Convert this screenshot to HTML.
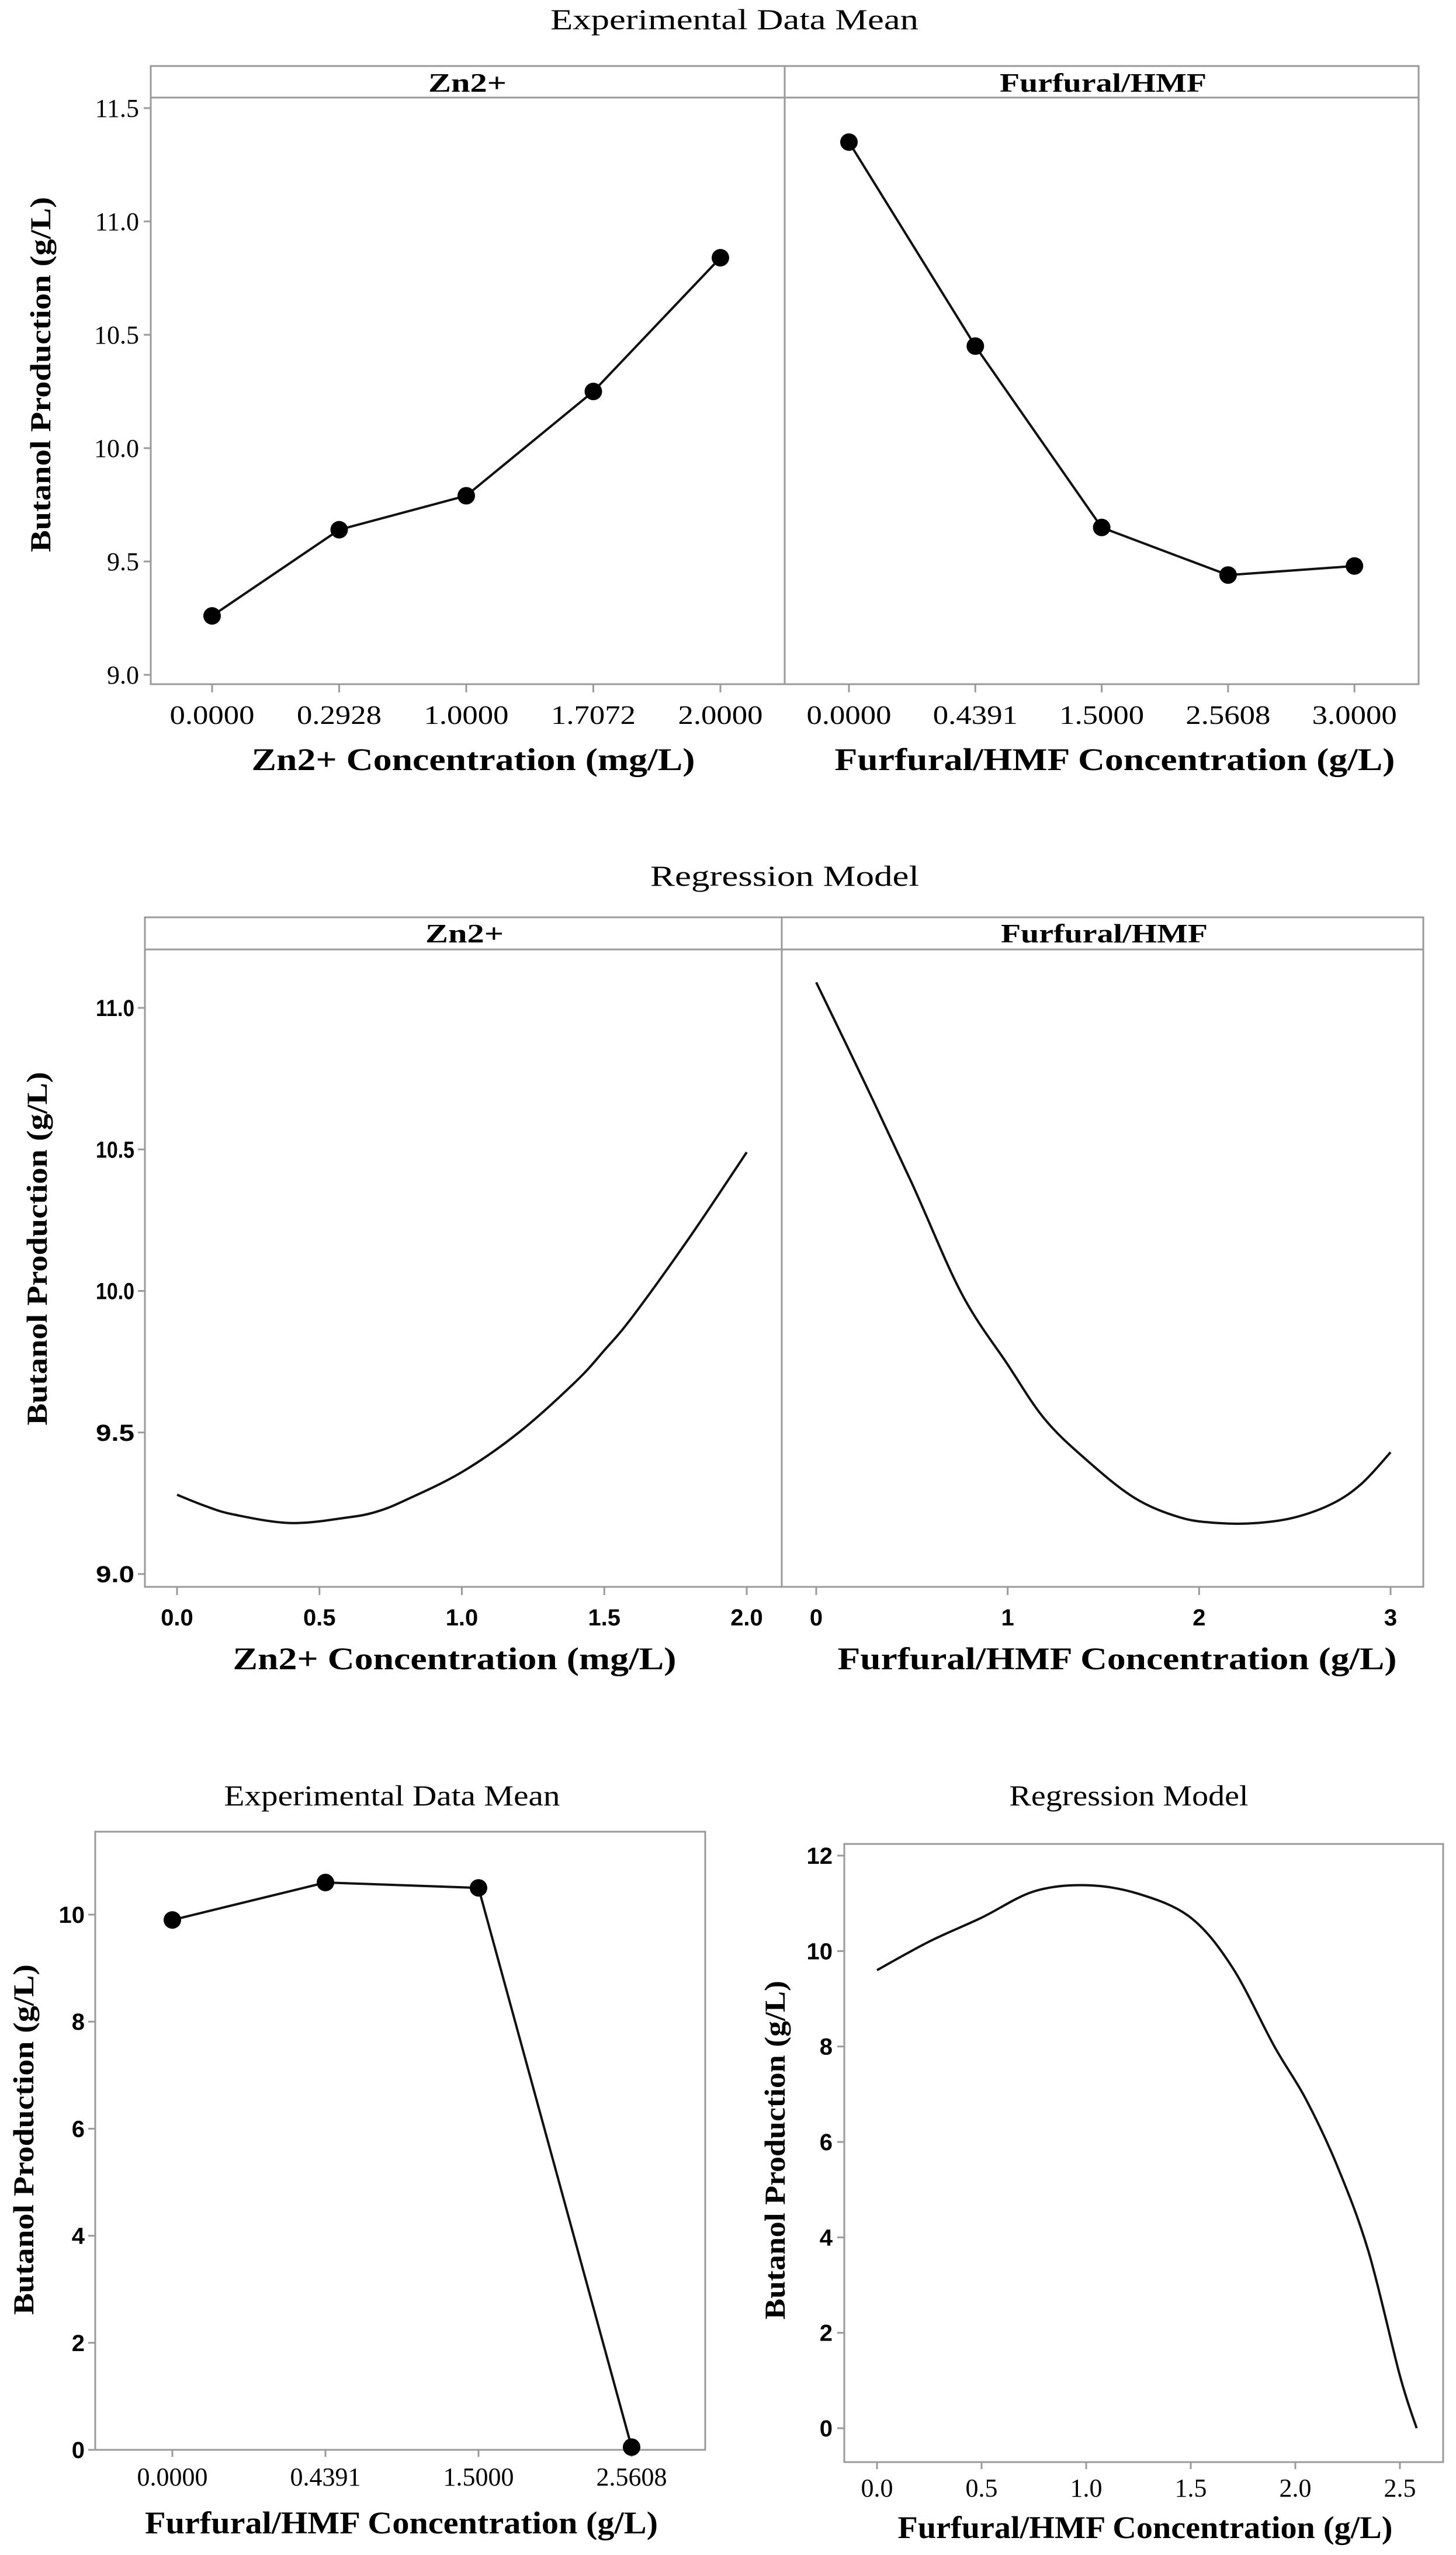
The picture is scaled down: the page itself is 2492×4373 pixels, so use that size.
<!DOCTYPE html>
<html><head><meta charset="utf-8"><style>
html,body{margin:0;padding:0;background:#fff;}
svg{display:block;}
.serif{font-family:"Liberation Serif",serif;}
.sans{font-family:"Liberation Sans",sans-serif;}
</style></head>
<body>
<svg id="fig" width="2492" height="4373" viewBox="0 0 2492 4373" xmlns="http://www.w3.org/2000/svg"></svg>
<script>
// ---------- data ----------
const znCats = ["0.0000","0.2928","1.0000","1.7072","2.0000"];
const znMeans = [9.26, 9.64, 9.79, 10.25, 10.84];
const ffCats = ["0.0000","0.4391","1.5000","2.5608","3.0000"];
const ffMeans = [11.35, 10.45, 9.65, 9.44, 9.48];
const expTicks = [9.0, 9.5, 10.0, 10.5, 11.0, 11.5];

const znRegX = [0, 0.1, 0.2, 0.4, 0.6, 0.7, 0.8, 1.0, 1.2, 1.4, 1.5, 1.6, 1.8, 2.0];
const znRegY = [9.28, 9.24, 9.21, 9.18, 9.20, 9.22, 9.26, 9.36, 9.50, 9.68, 9.79, 9.91, 10.19, 10.49];
const ffRegX = [0, 0.25, 0.5, 0.76, 1.0, 1.19, 1.4, 1.66, 1.9, 2.1, 2.3, 2.5, 2.7, 2.85, 3.0];
const ffRegY = [11.09, 10.74, 10.38, 9.99, 9.74, 9.55, 9.41, 9.27, 9.20, 9.18, 9.18, 9.20, 9.25, 9.32, 9.43];
const regTicks = [9.0, 9.5, 10.0, 10.5, 11.0];
const znRegXTicks = [0.0, 0.5, 1.0, 1.5, 2.0];
const ffRegXTicks = [0, 1, 2, 3];

const blCats = ["0.0000","0.4391","1.5000","2.5608"];
const blMeans = [9.9, 10.6, 10.5, 0.05];
const blTicks = [0, 2, 4, 6, 8, 10];

const brX = [0, 0.25, 0.5, 0.75, 1.0, 1.25, 1.5, 1.7, 1.9, 2.05, 2.2, 2.35, 2.5, 2.58];
const brY = [9.6, 10.2, 10.7, 11.25, 11.38, 11.2, 10.7, 9.65, 8.0, 6.9, 5.5, 3.7, 1.1, 0.0];
const brYTicks = [0, 2, 4, 6, 8, 10, 12];
const brXTicks = [0.0, 0.5, 1.0, 1.5, 2.0, 2.5];

// ---------- helpers ----------
const NS = "http://www.w3.org/2000/svg";
const svg = document.getElementById("fig");
function mk(tag, attrs, parent) {
  const e = document.createElementNS(NS, tag);
  for (const k in attrs) e.setAttribute(k, attrs[k]);
  (parent || svg).appendChild(e);
  return e;
}
function txt(s, x, y, cls, size, weight, anchor, extra) {
  const t = mk("text", Object.assign({x: x, y: y, "class": cls, "font-size": size, "font-weight": weight || "normal", "text-anchor": anchor || "middle", fill: "#000"}, extra || {}));
  t.textContent = s;
  return t;
}
function lin(d0, d1, p0, p1) { return v => p0 + (v - d0) * (p1 - p0) / (d1 - d0); }
function smooth(pts) {
  let d = "M" + pts[0][0] + "," + pts[0][1];
  for (let i = 0; i < pts.length - 1; i++) {
    const p0 = pts[Math.max(0, i - 1)], p1 = pts[i], p2 = pts[i + 1], p3 = pts[Math.min(pts.length - 1, i + 2)];
    const c1x = p1[0] + (p2[0] - p0[0]) / 6, c1y = p1[1] + (p2[1] - p0[1]) / 6;
    const c2x = p2[0] - (p3[0] - p1[0]) / 6, c2y = p2[1] - (p3[1] - p1[1]) / 6;
    d += " C" + c1x + "," + c1y + " " + c2x + "," + c2y + " " + p2[0] + "," + p2[1];
  }
  return d;
}
const GRAY = "#9a9a9a";

// ================= PANEL 1: Experimental Data Mean =================
let t = txt("Experimental Data Mean", 1257, 50, "serif", 50, "normal", "middle", {textLength: 630, lengthAdjust: "spacingAndGlyphs"});


{
  const L = 258, D = 1343, R = 2428, T = 113, S = 167, B = 1171;
  const y = lin(9, 11.5, 1155, 185);
  let f = mk("rect", {x: L, y: T, width: R - L, height: B - T, fill: "none", stroke: GRAY, "stroke-width": 3});
  
  
  let s = mk("line", {x1: L, y1: S, x2: R, y2: S, stroke: GRAY, "stroke-width": 3});
  
  
  let dv = mk("line", {x1: D, y1: T, x2: D, y2: B, stroke: GRAY, "stroke-width": 3});
  
  
  let sl = txt("Zn2+", 800, 157, "serif", 46, "bold", "middle", {textLength: 134, lengthAdjust: "spacingAndGlyphs"});
  
  
  sl = txt("Furfural/HMF", 1888, 157, "serif", 46, "bold", "middle", {textLength: 354, lengthAdjust: "spacingAndGlyphs"});
  
  
  expTicks.forEach(v => {
    const tk = mk("line", {x1: L - 12, y1: y(v), x2: L, y2: y(v), stroke: GRAY, "stroke-width": 3});
    
    
    const lb = txt(v.toFixed(1), L - 20, y(v) + 15, "serif", 44, "normal", "end");
    
    
  });
  const yt = txt("Butanol Production (g/L)", 0, 0, "serif", 50, "bold", "middle", {transform: "translate(86,641) rotate(-90)", textLength: 608, lengthAdjust: "spacingAndGlyphs"});
  
  
  const facets = [
    {cats: znCats, vals: znMeans, x0: 363, dx: 217.5, name: "zn", title: "Zn2+ Concentration (mg/L)", tc: 810, tw: 759},
    {cats: ffCats, vals: ffMeans, x0: 1453, dx: 216.3, name: "furfural", title: "Furfural/HMF Concentration (g/L)", tc: 1908, tw: 959}
  ];
  facets.forEach(fc => {
    const xs = fc.cats.map((c, i) => fc.x0 + i * fc.dx);
    fc.cats.forEach((c, i) => {
      const tk = mk("line", {x1: xs[i], y1: B, x2: xs[i], y2: B + 14, stroke: GRAY, "stroke-width": 3});
      
      
      const lb = txt(c, xs[i], 1239, "serif", 46, "normal", "middle", {textLength: 145, lengthAdjust: "spacingAndGlyphs"});
      
      
    });
    const pl = mk("polyline", {points: fc.vals.map((v, i) => xs[i] + "," + y(v)).join(" "), fill: "none", stroke: "#111", "stroke-width": 4});
    
    
    fc.vals.forEach((v, i) => {
      const c = mk("circle", {cx: xs[i], cy: y(v), r: 15, fill: "#000"});
      
      
    });
    const at = txt(fc.title, fc.tc, 1318, "serif", 54, "bold", "middle", {textLength: fc.tw, lengthAdjust: "spacingAndGlyphs"});
    
    
  });
}

// ================= PANEL 2: Regression Model =================
t = txt("Regression Model", 1343, 1516, "serif", 50, "normal", "middle", {textLength: 460, lengthAdjust: "spacingAndGlyphs"});


{
  const L = 248, D = 1338, R = 2436, T = 1570, S = 1625, B = 2716;
  const y = lin(9, 11, 2694, 1725);
  let f = mk("rect", {x: L, y: T, width: R - L, height: B - T, fill: "none", stroke: GRAY, "stroke-width": 3});
  
  
  let s = mk("line", {x1: L, y1: S, x2: R, y2: S, stroke: GRAY, "stroke-width": 3});
  
  
  let dv = mk("line", {x1: D, y1: T, x2: D, y2: B, stroke: GRAY, "stroke-width": 3});
  
  
  let sl = txt("Zn2+", 795, 1613, "serif", 46, "bold", "middle", {textLength: 134, lengthAdjust: "spacingAndGlyphs"});
  
  
  sl = txt("Furfural/HMF", 1890, 1613, "serif", 46, "bold", "middle", {textLength: 354, lengthAdjust: "spacingAndGlyphs"});
  
  
  regTicks.forEach(v => {
    const tk = mk("line", {x1: L - 12, y1: y(v), x2: L, y2: y(v), stroke: GRAY, "stroke-width": 3});
    
    
    const lb = txt(v.toFixed(1), L - 18, y(v) + 14, "sans", 40, "bold", "end", {textLength: 66, lengthAdjust: "spacingAndGlyphs"});
    
    
  });
  const yt = txt("Butanol Production (g/L)", 0, 0, "serif", 50, "bold", "middle", {transform: "translate(80,2137) rotate(-90)", textLength: 605, lengthAdjust: "spacingAndGlyphs"});
  
  
  const facets = [
    {xs: znRegX, ys: znRegY, ticks: znRegXTicks, x: lin(0, 2, 303, 1278), dec: 1, name: "zn", title: "Zn2+ Concentration (mg/L)", tc: 778, tw: 759},
    {xs: ffRegX, ys: ffRegY, ticks: ffRegXTicks, x: lin(0, 3, 1397, 2380), dec: 0, name: "furfural", title: "Furfural/HMF Concentration (g/L)", tc: 1912, tw: 957}
  ];
  facets.forEach(fc => {
    fc.ticks.forEach(v => {
      const tk = mk("line", {x1: fc.x(v), y1: B, x2: fc.x(v), y2: B + 14, stroke: GRAY, "stroke-width": 3});
      
      
      const lb = txt(v.toFixed(fc.dec), fc.x(v), 2782, "sans", 40, "bold", "middle");
      
      
    });
    const pl = mk("path", {d: smooth(fc.xs.map((v, i) => [fc.x(v), y(fc.ys[i])])), fill: "none", stroke: "#111", "stroke-width": 4, "stroke-linejoin": "round"});
    
    
    const at = txt(fc.title, fc.tc, 2857, "serif", 54, "bold", "middle", {textLength: fc.tw, lengthAdjust: "spacingAndGlyphs"});
    
    
  });
}

// ================= PANEL 3: bottom-left Experimental =================
t = txt("Experimental Data Mean", 671, 3090, "serif", 50, "normal", "middle", {textLength: 575, lengthAdjust: "spacingAndGlyphs"});


{
  const L = 163, R = 1207, T = 3135, B = 4193;
  const y = lin(0, 10, 4193, 3277);
  const xs = blCats.map((c, i) => 295 + i * 262);
  let f = mk("rect", {x: L, y: T, width: R - L, height: B - T, fill: "none", stroke: GRAY, "stroke-width": 3});
  
  
  blTicks.forEach(v => {
    const tk = mk("line", {x1: L - 12, y1: y(v), x2: L, y2: y(v), stroke: GRAY, "stroke-width": 3});
    
    
    const lb = txt(String(v), L - 18, y(v) + 14, "sans", 40, "bold", "end");
    
    
  });
  blCats.forEach((c, i) => {
    const tk = mk("line", {x1: xs[i], y1: B, x2: xs[i], y2: B + 12, stroke: GRAY, "stroke-width": 3});
    
    
    const lb = txt(c, xs[i], 4254, "serif", 44, "normal", "middle");
    
    
  });
  const pl = mk("polyline", {points: blMeans.map((v, i) => xs[i] + "," + y(v)).join(" "), fill: "none", stroke: "#111", "stroke-width": 4});
  
  
  blMeans.forEach((v, i) => {
    const c = mk("circle", {cx: xs[i], cy: y(v), r: 15, fill: "#000"});
    
    
  });
  const yt = txt("Butanol Production (g/L)", 0, 0, "serif", 50, "bold", "middle", {transform: "translate(57,3662) rotate(-90)", textLength: 600, lengthAdjust: "spacingAndGlyphs"});
  
  
  const at = txt("Furfural/HMF Concentration (g/L)", 687, 4336, "serif", 54, "bold", "middle", {textLength: 878, lengthAdjust: "spacingAndGlyphs"});
  
  
}

// ================= PANEL 4: bottom-right Regression =================
t = txt("Regression Model", 1932, 3090, "serif", 50, "normal", "middle", {textLength: 409, lengthAdjust: "spacingAndGlyphs"});


{
  const L = 1445, R = 2470, T = 3156, B = 4214;
  const y = lin(0, 12, 4156, 3176);
  const x = lin(0, 2.5, 1501, 2396);
  let f = mk("rect", {x: L, y: T, width: R - L, height: B - T, fill: "none", stroke: GRAY, "stroke-width": 3});
  
  
  brYTicks.forEach(v => {
    const tk = mk("line", {x1: L - 12, y1: y(v), x2: L, y2: y(v), stroke: GRAY, "stroke-width": 3});
    
    
    const lb = txt(String(v), L - 20, y(v) + 14, "sans", 40, "bold", "end");
    
    
  });
  brXTicks.forEach(v => {
    const tk = mk("line", {x1: x(v), y1: B, x2: x(v), y2: B + 12, stroke: GRAY, "stroke-width": 3});
    
    
    const lb = txt(v.toFixed(1), x(v), 4273, "serif", 44, "normal", "middle");
    
    
  });
  const pl = mk("path", {d: smooth(brX.map((v, i) => [x(v), y(brY[i])])), fill: "none", stroke: "#111", "stroke-width": 4, "stroke-linejoin": "round"});
  
  
  const yt = txt("Butanol Production (g/L)", 0, 0, "serif", 50, "bold", "middle", {transform: "translate(1343,3680) rotate(-90)", textLength: 580, lengthAdjust: "spacingAndGlyphs"});
  
  
  const at = txt("Furfural/HMF Concentration (g/L)", 1960, 4344, "serif", 54, "bold", "middle", {textLength: 847, lengthAdjust: "spacingAndGlyphs"});
  
  
}
</script>
</body></html>
